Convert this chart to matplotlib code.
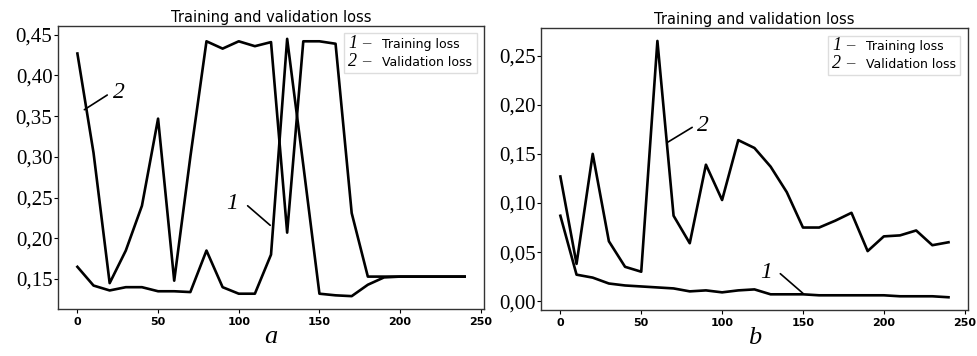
import numpy as np
import matplotlib
matplotlib.use("Agg")
import matplotlib.pyplot as plt
from matplotlib.ticker import FuncFormatter, MultipleLocator
from matplotlib.legend_handler import HandlerBase
from matplotlib.text import Text
from matplotlib.lines import Line2D

epochs = np.arange(0, 250, 10)

# panel a
train_a = [0.165, 0.142, 0.136, 0.140, 0.140, 0.135, 0.135, 0.134, 0.185, 0.140,
           0.132, 0.132, 0.180, 0.445, 0.290, 0.132, 0.130, 0.129, 0.143, 0.152,
           0.153, 0.153, 0.153, 0.153, 0.153]
val_a = [0.427, 0.305, 0.145, 0.185, 0.240, 0.347, 0.148, 0.300, 0.442, 0.433,
         0.442, 0.436, 0.441, 0.207, 0.442, 0.442, 0.439, 0.231, 0.153, 0.153,
         0.153, 0.153, 0.153, 0.153, 0.153]

# panel b
train_b = [0.087, 0.027, 0.024, 0.018, 0.016, 0.015, 0.014, 0.013, 0.010, 0.011,
           0.009, 0.011, 0.012, 0.007, 0.007, 0.007, 0.006, 0.006, 0.006, 0.006,
           0.006, 0.005, 0.005, 0.005, 0.004]
val_b = [0.127, 0.038, 0.150, 0.061, 0.035, 0.030, 0.265, 0.087, 0.059, 0.139,
         0.103, 0.164, 0.156, 0.137, 0.111, 0.075, 0.075, 0.082, 0.090, 0.051,
         0.066, 0.067, 0.072, 0.057, 0.060]

serif = "Liberation Serif"
sans = "DejaVu Sans"


class NumHandler(HandlerBase):
    def __init__(self, num):
        super().__init__()
        self.num = num

    def create_artists(self, legend, orig_handle, xdescent, ydescent,
                       width, height, fontsize, trans):
        t = Text(-xdescent, -ydescent + height / 2, self.num, fontfamily=serif,
                 fontstyle="italic", fontsize=13, va="center", ha="left",
                 transform=trans)
        d = Text(-xdescent + 10, -ydescent + height / 2, "\u2013", fontfamily=serif,
                 fontsize=12, va="center", ha="left", transform=trans, color="#333333")
        return [t, d]


def comma(v, p):
    return f"{v:.2f}".replace(".", ",")


def make_panel(ax, train, val, label, ystep, ann1, ann2):
    ax.plot(epochs, train, color="black", lw=1.9)
    ax.plot(epochs, val, color="black", lw=1.9)
    ax.set_title("Training and validation loss", fontfamily=sans, fontsize=10.5, pad=3)
    ax.yaxis.set_major_locator(MultipleLocator(ystep))
    ax.yaxis.set_major_formatter(FuncFormatter(comma))
    ax.xaxis.set_major_locator(MultipleLocator(50))
    for t in ax.get_yticklabels():
        t.set_fontfamily(serif)
        t.set_fontsize(15)
    for t in ax.get_xticklabels():
        t.set_fontfamily(sans)
        t.set_fontsize(8)
        t.set_fontweight("bold")
    ax.tick_params(axis="y", length=3, pad=1)
    ax.tick_params(axis="x", length=3, pad=3)
    for s in ax.spines.values():
        s.set_color("#333333")
        s.set_linewidth(1.0)
    ax.set_xlabel(label, fontfamily=serif, fontstyle="italic", fontsize=19, labelpad=-1)

    h1 = Line2D([], [], label="Training loss")
    h2 = Line2D([], [], label="Validation loss")
    ax.legend(handles=[h1, h2], loc="upper right",
              handler_map={h1: NumHandler("1"), h2: NumHandler("2")},
              prop={"family": sans, "size": 9}, handlelength=2.2,
              handletextpad=0.5, borderpad=0.35, labelspacing=0.4,
              borderaxespad=0.6,
              fancybox=False, edgecolor="#dddddd", framealpha=1)

    for (tx, ty, x0, y0, x1, y1, s) in (ann1, ann2):
        ax.annotate("", xy=(x1, y1), xytext=(x0, y0),
                    arrowprops=dict(arrowstyle="-", color="black", lw=1.2,
                                    shrinkA=0, shrinkB=0))
        ax.text(tx, ty, s, fontfamily=serif, fontstyle="italic", fontsize=17,
                ha="center", va="center")


fig = plt.figure(figsize=(9.77, 3.56), dpi=100)
ax1 = fig.add_axes([0.0594, 0.132, 0.436, 0.795])
ax2 = fig.add_axes([0.5537, 0.129, 0.437, 0.792])

make_panel(ax1, train_a, val_a, "a", 0.05,
           (96, 0.243, 105.5, 0.240, 119.5, 0.216, "1"),
           (26, 0.379, 18.5, 0.376, 4.3, 0.358, "2"))
make_panel(ax2, train_b, val_b, "b", 0.05,
           (127, 0.0295, 136, 0.028, 150, 0.008, "1"),
           (88, 0.179, 81.5, 0.177, 66.5, 0.162, "2"))

fig.savefig("out.png", dpi=100)
